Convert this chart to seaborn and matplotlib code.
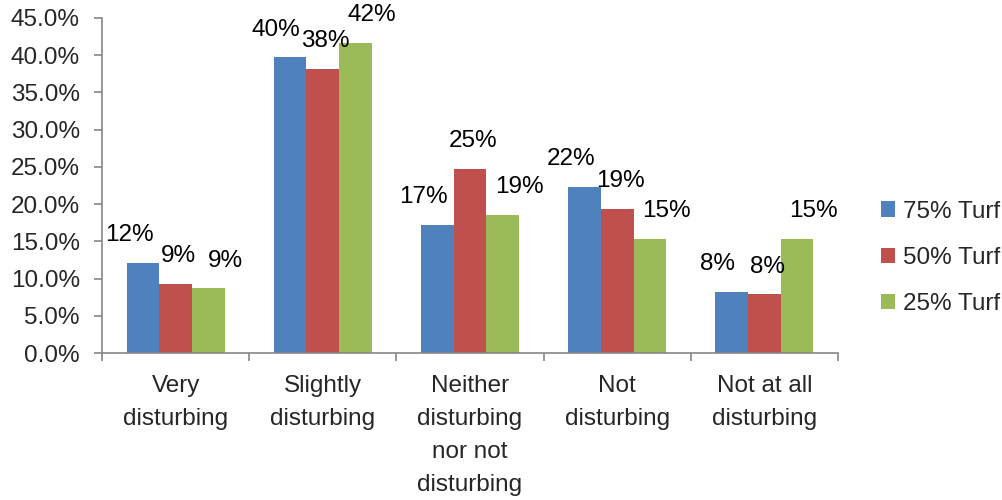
import matplotlib
matplotlib.use("Agg")
import matplotlib.pyplot as plt
import seaborn as sns
import pandas as pd
import numpy as np
from matplotlib.ticker import FuncFormatter, MultipleLocator, FixedLocator

# Responses by turf coverage (share of respondents, %)
categories = ["Very\ndisturbing", "Slightly\ndisturbing",
              "Neither\ndisturbing\nnor not\ndisturbing",
              "Not\ndisturbing", "Not at all\ndisturbing"]
series_names = ["75% Turf", "50% Turf", "25% Turf"]
turf_75 = [12.1, 39.7, 17.2, 22.3, 8.2]
turf_50 = [9.3, 38.2, 24.7, 19.4, 7.9]
turf_25 = [8.7, 41.7, 18.6, 15.3, 15.3]
colors = ["#4F81BD", "#C0504D", "#9BBB59"]

df = pd.DataFrame({
    "category": categories * 3,
    "series": sum([[s] * len(categories) for s in series_names], []),
    "value": turf_75 + turf_50 + turf_25,
})

sns.set_theme(style="white")
plt.rcParams["font.family"] = ["Liberation Sans", "DejaVu Sans"]
FS = 17.5

fig = plt.figure(figsize=(10.03, 5.0), dpi=100)
ax = fig.add_axes([0.1017, 0.294, 0.7338, 0.670])

sns.barplot(data=df, x="category", y="value", hue="series",
            order=categories, hue_order=series_names,
            palette=colors, width=0.667, saturation=1,
            edgecolor="none", linewidth=0, ax=ax)

# value labels above each bar, spread sideways so neighbours don't collide
label_shift = [-10, 2, 12]  # points, per series
for cont, dx in zip(ax.containers, label_shift):
    anns = ax.bar_label(cont, labels=[f"{v:.0f}%" for v in cont.datavalues],
                        padding=12, fontsize=FS, color="black")
    for a in anns:
        x0, y0 = a.xyann
        a.xyann = (x0 + dx, y0)

ax.set_ylim(0, 45)
ax.set_xlim(-0.5, len(categories) - 0.5)
ax.yaxis.set_major_locator(MultipleLocator(5))
ax.yaxis.set_major_formatter(FuncFormatter(lambda v, p: f"{v:.1f}%"))
ax.set_xlabel("")
ax.set_ylabel("")

spine_col = "#868686"
for side in ["top", "right"]:
    ax.spines[side].set_visible(False)
for side in ["left", "bottom"]:
    ax.spines[side].set_visible(True)
    ax.spines[side].set_color(spine_col)
    ax.spines[side].set_linewidth(1.2)

ax.tick_params(axis="y", which="major", direction="out", length=6,
               width=1.2, color=spine_col, labelsize=FS, pad=10, left=True)
ax.tick_params(axis="x", which="major", length=0, labelsize=FS, pad=16)
ax.xaxis.set_minor_locator(FixedLocator(np.arange(-0.5, len(categories), 1.0)))
ax.tick_params(axis="x", which="minor", direction="out", length=6,
               width=1.2, color=spine_col, bottom=True)
for lbl in ax.get_xticklabels():
    lbl.set_linespacing(1.65)

leg = ax.legend(loc="center left", bbox_to_anchor=(1.058, 0.284),
                frameon=False, fontsize=FS, handlelength=0.6,
                handleheight=0.6, handletextpad=0.3, labelspacing=1.0,
                borderpad=0, borderaxespad=0)

fig.savefig("out.png", dpi=100)
